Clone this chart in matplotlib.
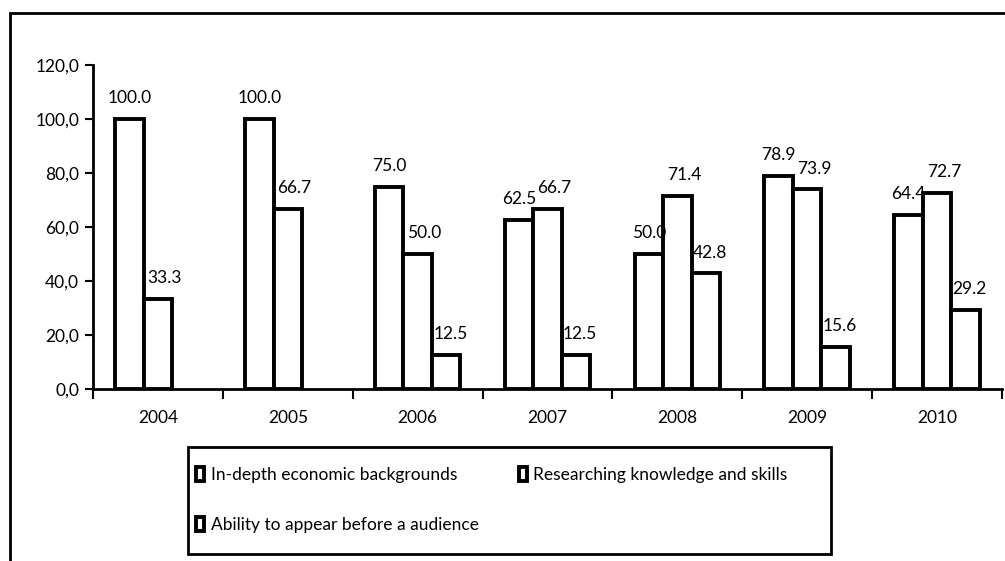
import numpy as np
import matplotlib.pyplot as plt
from matplotlib.patches import Rectangle

plt.rcParams['font.family'] = ['Lato', 'DejaVu Sans']

# Data
years = ['2004', '2005', '2006', '2007', '2008', '2009', '2010']
economic = [100.0, 100.0, 75.0, 62.5, 50.0, 78.9, 64.4]
researching = [33.3, 66.7, 50.0, 66.7, 71.4, 73.9, 72.7]
audience = [np.nan, np.nan, 12.5, 12.5, 42.8, 15.6, 29.2]
labels = ['In-depth economic backgrounds', 'Researching knowledge and skills',
          'Ability to appear before a audience']

fig = plt.figure(figsize=(10.05, 5.61), dpi=100)
ax = fig.add_axes([93 / 1005, 1 - 389 / 561, (1002 - 93) / 1005, (389 - 65) / 561])

x = np.arange(len(years))
w = 0.22
series = [economic, researching, audience]
offsets = [-w, 0, w]
label_dx = [0, 5, 3]
bars = []
for vals, off, lab, dx in zip(series, offsets, labels, label_dx):
    vals = np.array(vals, dtype=float)
    b = ax.bar(x + off, vals, w, color='white', edgecolor='black', linewidth=2.8, label=lab)
    bars.append(b)
    for xi, v in zip(x + off, vals):
        if np.isnan(v):
            continue
        ax.annotate(f'{v:.1f}', (xi, v), xytext=(dx, 15), textcoords='offset points',
                    ha='center', va='center', fontsize=12.5)

ax.set_xlim(-0.5, len(years) - 0.5)
ax.set_ylim(0, 120)
ax.set_yticks(np.arange(0, 121, 20))
ax.set_yticklabels([f'{v:.1f}'.replace('.', ',') for v in np.arange(0, 121, 20)], fontsize=12.5)
ax.set_xticks(x)
ax.set_xticklabels(years, fontsize=12.5)
ax.set_xticks(np.arange(-0.5, len(years)), minor=True)
ax.tick_params(axis='x', which='major', length=0, pad=15)
ax.tick_params(axis='x', which='minor', length=7, width=1.5, direction='out')
ax.tick_params(axis='y', length=6, width=1.5, direction='out', pad=4)
for s in ['top', 'right']:
    ax.spines[s].set_visible(False)
for s in ['left', 'bottom']:
    ax.spines[s].set_linewidth(2)

# legend: column-major fill, so reorder to get row-wise reading order
order = [0, 2, 1]
leg = fig.legend([bars[i] for i in order], [labels[i] for i in order], ncol=2,
                 bbox_to_anchor=(196 / 1005, 1 - 467 / 561), loc='upper left',
                 borderaxespad=0, borderpad=0, fontsize=12.5, handlelength=0.45,
                 handleheight=0.9, handletextpad=0.4, labelspacing=1.95,
                 columnspacing=2.3, frameon=False)

# legend box and outer chart border
fig.add_artist(Rectangle((188 / 1005, 1 - 554 / 561), (831 - 188) / 1005, (554 - 447) / 561,
                         transform=fig.transFigure, fill=False, edgecolor='black', linewidth=2))
fig.add_artist(Rectangle((10 / 1005, -0.1), 1.2, 1.1 - 13 / 561, transform=fig.transFigure,
                         fill=False, edgecolor='black', linewidth=2))

fig.savefig('out.png', dpi=100)
